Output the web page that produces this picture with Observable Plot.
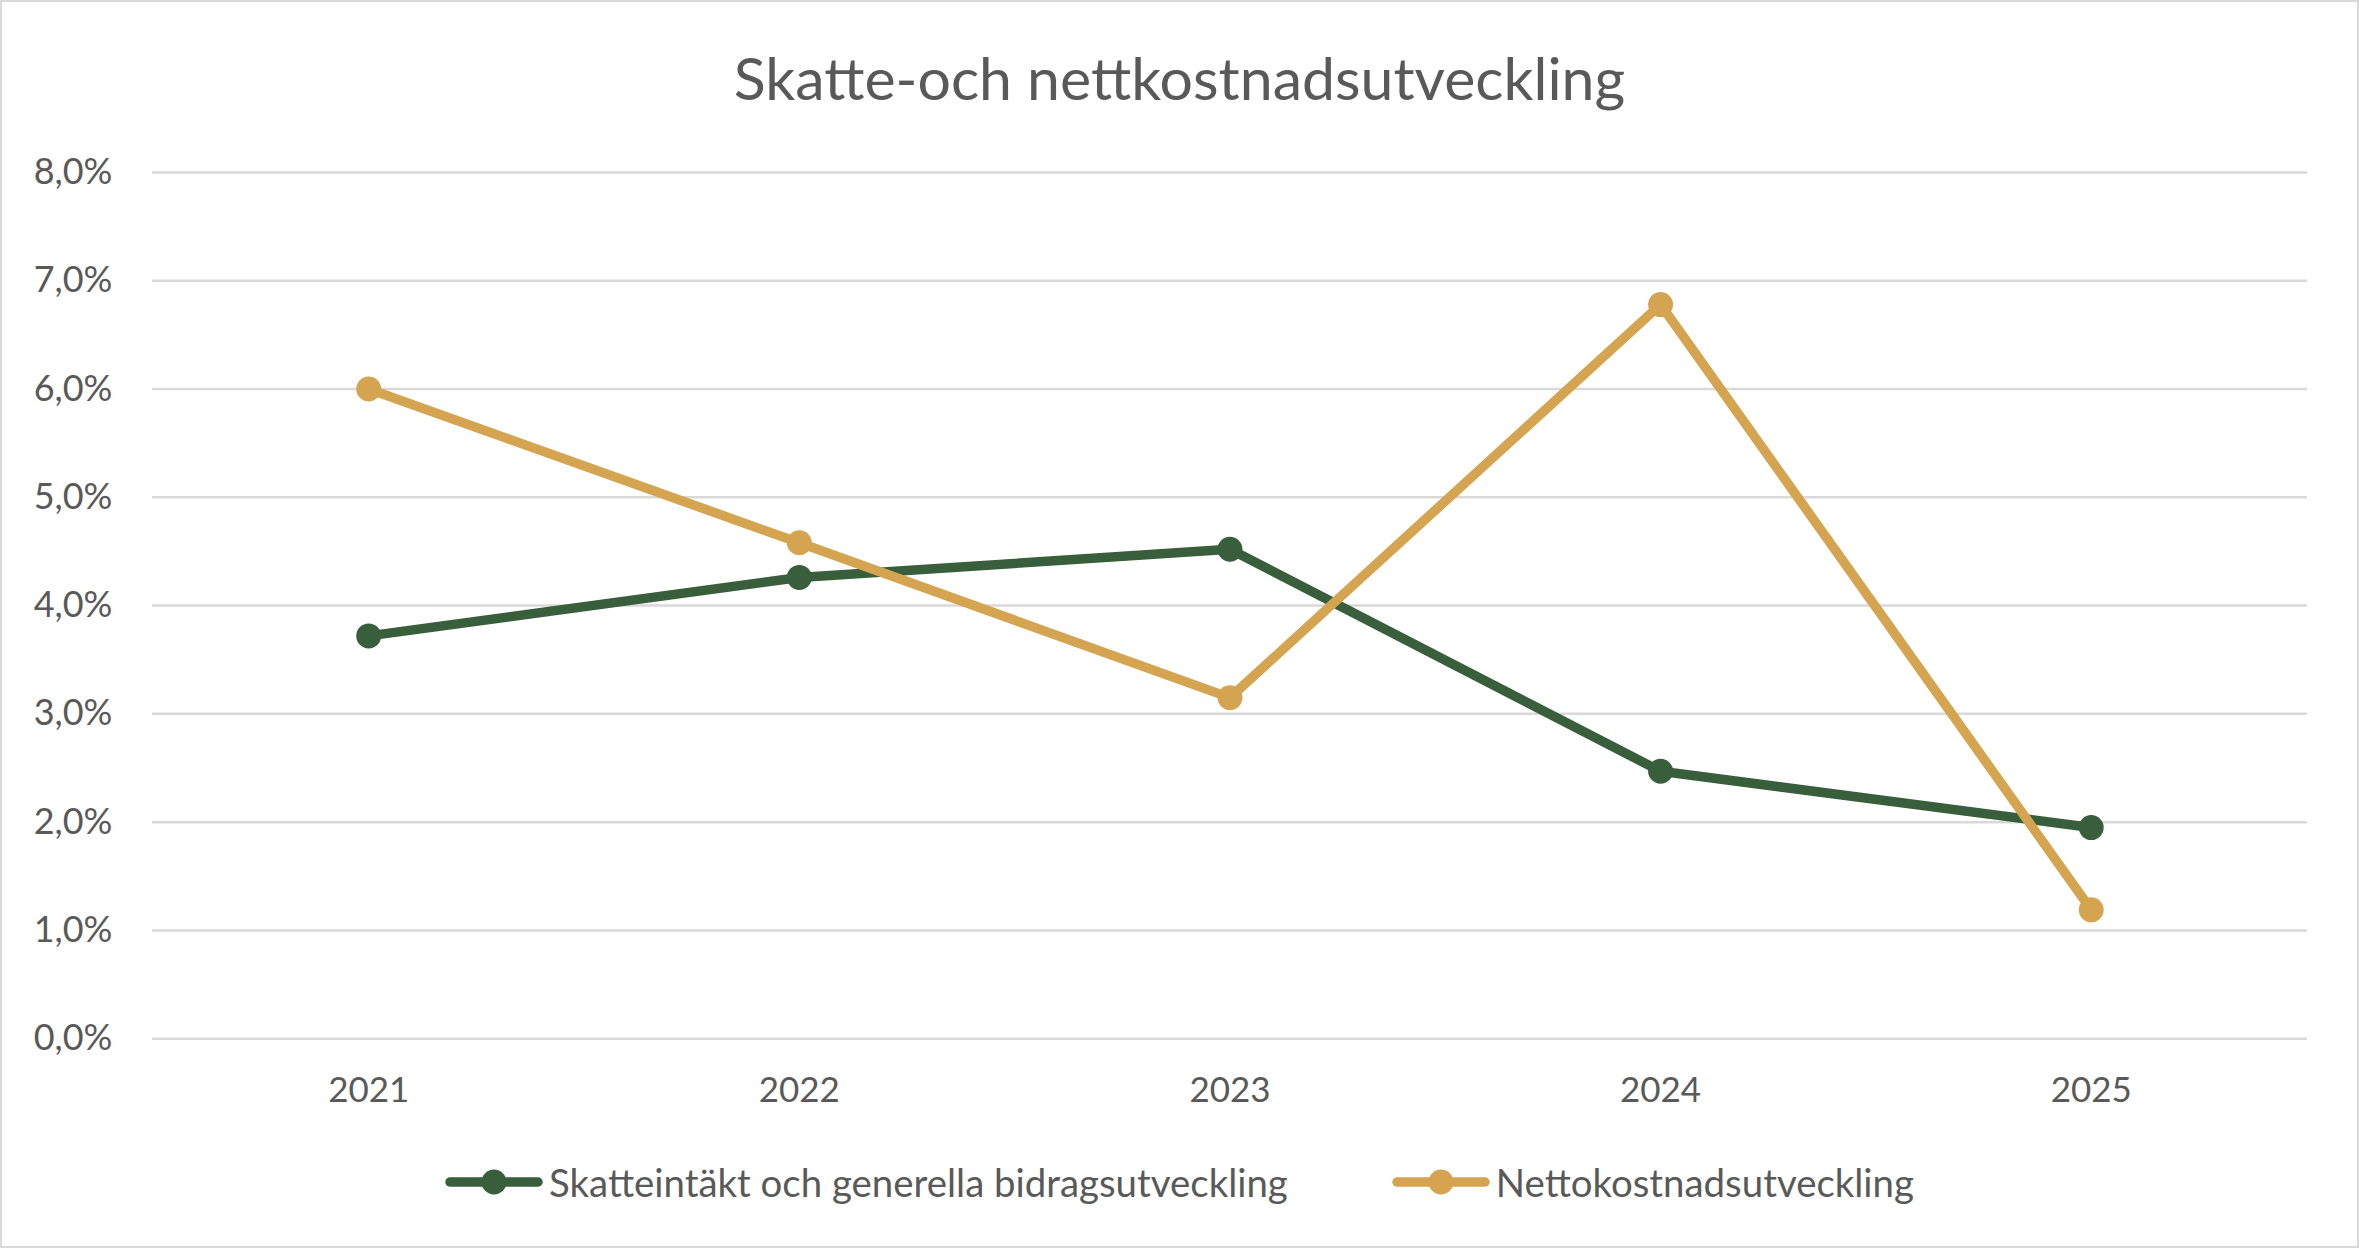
<!DOCTYPE html>
<html>
<head>
<meta charset="utf-8">
<script src="https://cdn.jsdelivr.net/npm/d3@7"></script>
<script src="https://cdn.jsdelivr.net/npm/@observablehq/plot@0.6"></script>
<style>
  html, body { margin: 0; padding: 0; background: #fff; }
  #wrap { position: relative; width: 2359px; height: 1248px; box-sizing: border-box; border: 2px solid #d9d9d9; background: #fff; font-family: Lato, "Open Sans", sans-serif; color: #595959; overflow: hidden; }
  #title { position: absolute; left: 0; right: 0; top: 40px; text-align: center; font-size: 59px; line-height: 72px; color: #595959; }
  #chart { position: absolute; left: -2px; top: 118px; }
  #legend { position: absolute; left: 0; right: 0; top: 1155px; height: 50px; display: flex; justify-content: center; align-items: center; font-size: 38.4px; color: #595959; }
  .item { display: flex; align-items: center; }
  .item svg { margin-right: 6px; }
</style>
</head>
<body>
<div id="wrap">
  <div id="title">Skatte-och nettkostnadsutveckling</div>
  <div id="chart"></div>
  <div id="legend"></div>
</div>
<script>
const years = ["2021", "2022", "2023", "2024", "2025"];
const seriesNames = ["Skatteintäkt och generella bidragsutveckling", "Nettokostnadsutveckling"];
const skatteintakt = [3.72, 4.26, 4.52, 2.47, 1.95];
const nettokostnad = [6.00, 4.58, 3.15, 6.78, 1.19];
const colors = ["#385E3B", "#D5A450"];
const yTicks = [0, 1, 2, 3, 4, 5, 6, 7, 8];

const data = [];
years.forEach((y, i) => data.push({year: y, value: skatteintakt[i], series: seriesNames[0]}));
years.forEach((y, i) => data.push({year: y, value: nettokostnad[i], series: seriesNames[1]}));

const fmt = d => d.toFixed(1).replace(".", ",") + "%";

const chart = Plot.plot({
  width: 2359,
  height: 1020,
  marginLeft: 152,
  marginRight: 50,
  marginTop: 52,
  marginBottom: 101,
  style: { fontFamily: "Lato, 'Open Sans', sans-serif", fontSize: "35px", color: "#595959", background: "transparent" },
  x: { type: "band", domain: years, padding: 0, label: null },
  y: { domain: [0, 8], label: null },
  color: { domain: seriesNames, range: colors },
  marks: [
    Plot.ruleY(yTicks, { stroke: "#d9d9d9", strokeWidth: 2.5 }),
    Plot.axisY({ ticks: yTicks, tickFormat: fmt, tickSize: 0, tickPadding: 40, label: null, fill: "#595959", fontSize: 36 }),
    Plot.axisX({ tickSize: 0, tickPadding: 38, label: null, fill: "#595959", fontSize: 35 }),
    Plot.line(data, { x: "year", y: "value", z: "series", stroke: "series", strokeWidth: 9.5, strokeLinejoin: "round", strokeLinecap: "round" }),
    Plot.dot(data, { x: "year", y: "value", fill: "series", r: 12.5, stroke: "none" })
  ]
});
document.getElementById("chart").appendChild(chart);

const legend = document.getElementById("legend");
seriesNames.forEach((name, i) => {
  const item = document.createElement("div");
  item.className = "item";
  item.style.marginRight = i === 0 ? "104px" : "0";
  const sw = d3.create("svg").attr("width", 98).attr("height", 30);
  sw.append("line").attr("x1", 5).attr("x2", 93).attr("y1", 15).attr("y2", 15)
    .attr("stroke", colors[i]).attr("stroke-width", 9.5).attr("stroke-linecap", "round");
  sw.append("circle").attr("cx", 49).attr("cy", 15).attr("r", 12.5).attr("fill", colors[i]);
  item.appendChild(sw.node());
  const t = document.createElement("span");
  t.textContent = name;
  item.appendChild(t);
  legend.appendChild(item);
});
</script>
</body>
</html>
